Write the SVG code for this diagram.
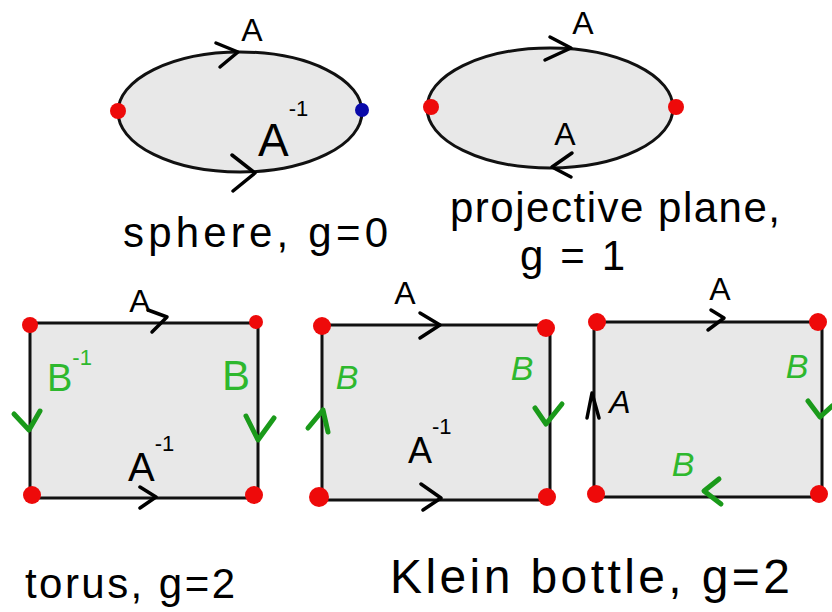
<svg xmlns="http://www.w3.org/2000/svg" width="832" height="612" viewBox="0 0 832 612">
<style>
.shape{fill:#e8e8e8;stroke:#111;stroke-width:3}
.chev{fill:none;stroke:#000;stroke-width:3.5;stroke-linecap:round;stroke-linejoin:round}
.gchev{fill:none;stroke:#1a9a1a;stroke-width:5;stroke-linecap:round;stroke-linejoin:round}
.red{fill:#ee0a0a}
.blue{fill:#0a0aaa}
.lbl{font-family:"Liberation Sans",Arial,sans-serif;font-size:32px;fill:#000}
.glbl{font-family:"Liberation Sans",Arial,sans-serif;font-size:38px;fill:#2eb82e}
.sup{font-size:22px}
.cap{font-family:"Liberation Sans",Arial,sans-serif;font-size:42px;fill:#000}
</style>
<rect width="832" height="612" fill="#fff"/>

<g id="sphere">
<ellipse class="shape" cx="240" cy="112" rx="122" ry="60"/>
<polyline class="chev" points="216,43 238,52 220,67"/>
<polyline class="chev" points="232,155 255,173 233,191"/>
<text class="lbl" x="252" y="41" text-anchor="middle">A</text>
<text class="lbl" x="258" y="156" style="font-size:46px">A<tspan class="sup" dy="-40">-1</tspan></text>
<circle class="red" cx="118" cy="111" r="8"/>
<circle class="blue" cx="362" cy="110" r="7"/>
<text class="cap" x="123" y="247" textLength="265" lengthAdjust="spacing">sphere, g=0</text>
</g>

<g id="projective-plane">
<ellipse class="shape" cx="550" cy="108" rx="123" ry="60"/>
<polyline class="chev" points="550,37 571,48 545,60"/>
<polyline class="chev" points="572,153 552,167 571,177"/>
<text class="lbl" x="583" y="34" text-anchor="middle">A</text>
<text class="lbl" x="565" y="145" text-anchor="middle">A</text>
<circle class="red" cx="431" cy="107" r="8"/>
<circle class="red" cx="676" cy="107" r="8"/>
<text class="cap" x="450" y="222" textLength="330" lengthAdjust="spacing">projective plane,</text>
<text class="cap" x="520" y="270" textLength="105" lengthAdjust="spacing">g = 1</text>
</g>

<g id="torus">
<rect class="shape" x="30" y="323" width="228" height="175"/>
<polyline class="chev" points="148,310 167,317 152,332"/>
<polyline class="chev" points="140,487 156,497 140,508"/>
<polyline class="gchev" points="14,414 29,430 40,411"/>
<polyline class="gchev" points="246,416 258,440 274,418"/>
<text class="lbl" x="140" y="312" text-anchor="middle">A</text>
<text class="lbl" x="128" y="481" style="font-size:40px">A<tspan class="sup" dy="-30">-1</tspan></text>
<text class="glbl" x="47" y="391">B<tspan class="sup" dy="-26">-1</tspan></text>
<text class="glbl" x="236" y="390" text-anchor="middle" style="font-size:42px">B</text>
<circle class="red" cx="30" cy="325" r="8"/>
<circle class="red" cx="256" cy="322" r="7"/>
<circle class="red" cx="32" cy="495" r="9"/>
<circle class="red" cx="254" cy="495" r="9"/>
<text class="cap" x="25" y="598" textLength="210" lengthAdjust="spacing">torus, g=2</text>
</g>

<g id="klein-bottle-1">
<rect class="shape" x="322" y="325" width="228" height="175"/>
<polyline class="chev" points="420,313 440,325 420,338"/>
<polyline class="chev" points="421,484 441,498 423,510"/>
<polyline class="gchev" points="308,428 323,410 328,432"/>
<polyline class="gchev" points="535,408 546,424 562,404"/>
<text class="lbl" x="405" y="304" text-anchor="middle">A</text>
<text class="lbl" x="408" y="463" style="font-size:36px">A<tspan class="sup" dy="-29">-1</tspan></text>
<text class="glbl" x="347" y="389" text-anchor="middle" font-style="italic" style="font-size:34px">B</text>
<text class="glbl" x="522" y="380" text-anchor="middle" font-style="italic" style="font-size:34px">B</text>
<circle class="red" cx="322" cy="326" r="9"/>
<circle class="red" cx="546" cy="328" r="9"/>
<circle class="red" cx="319" cy="497" r="10"/>
<circle class="red" cx="547" cy="497" r="9"/>
</g>

<g id="klein-bottle-2">
<rect class="shape" x="594" y="322" width="228" height="175"/>
<polyline class="chev" points="711,310 724,318 708,330"/>
<polyline class="chev" points="587,418 592,393 599,418"/>
<polyline class="gchev" points="808,401 820,417 832,406"/>
<polyline class="gchev" points="719,479 704,491 721,504"/>
<text class="lbl" x="720" y="300" text-anchor="middle">A</text>
<text class="lbl" x="620" y="413" text-anchor="middle" font-style="italic">A</text>
<text class="glbl" x="797" y="378" text-anchor="middle" font-style="italic" style="font-size:34px">B</text>
<text class="glbl" x="683" y="476" text-anchor="middle" font-style="italic" style="font-size:34px">B</text>
<circle class="red" cx="597" cy="322" r="9"/>
<circle class="red" cx="818" cy="322" r="9"/>
<circle class="red" cx="596" cy="494" r="9"/>
<circle class="red" cx="819" cy="494" r="9"/>
<text class="cap" x="390" y="593" textLength="400" lengthAdjust="spacing" style="font-size:48px">Klein bottle, g=2</text>
</g>
</svg>
